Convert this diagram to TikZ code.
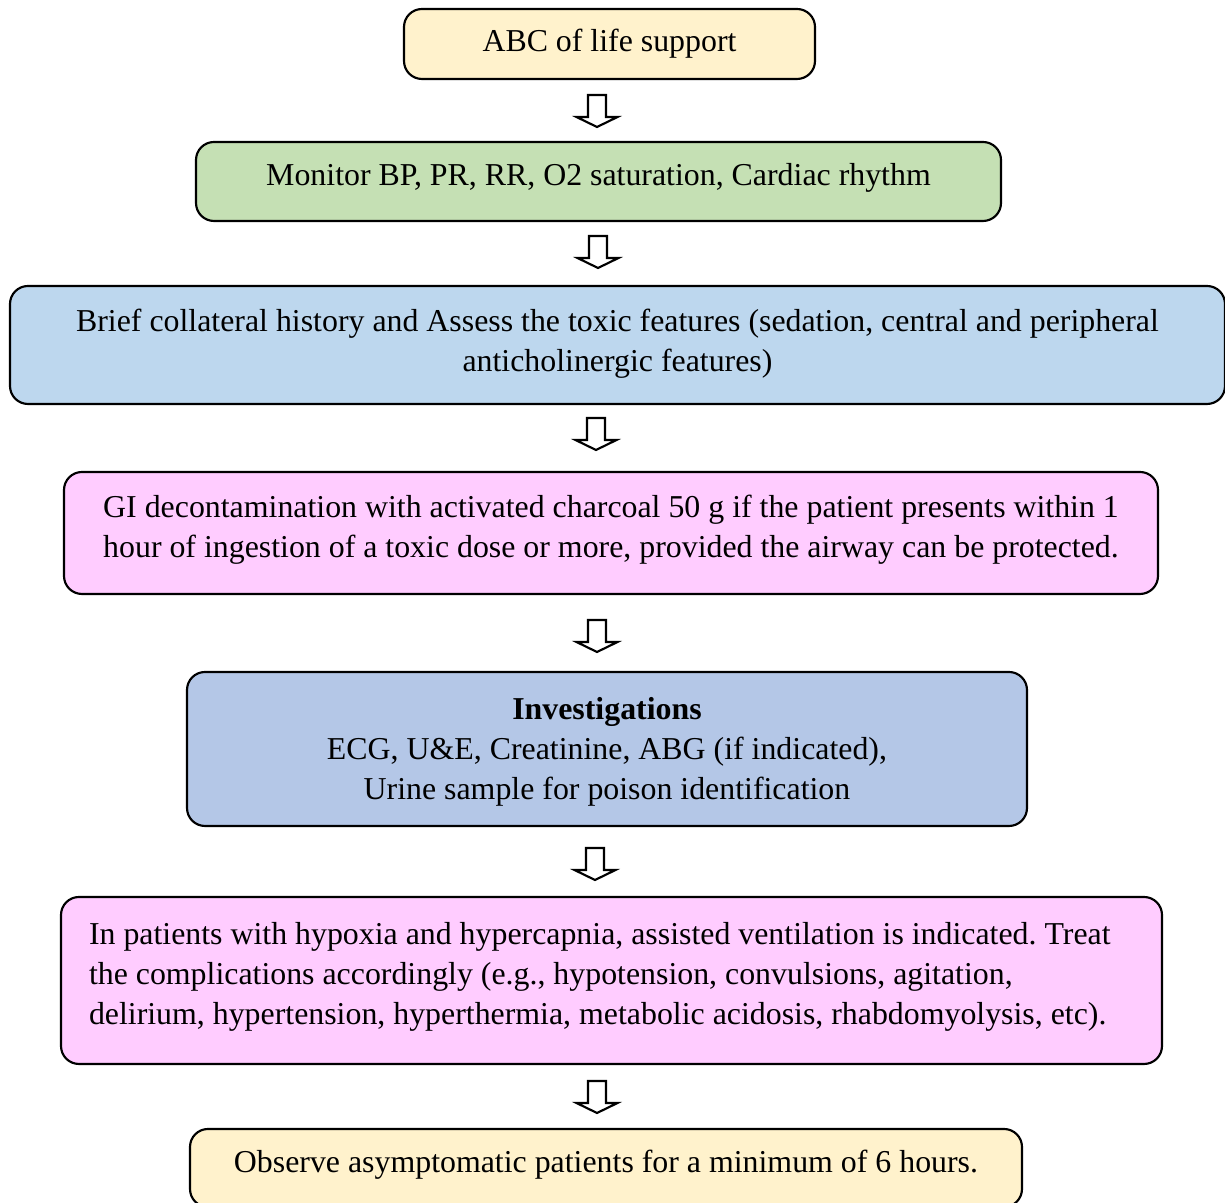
\documentclass[tikz,border=0pt]{standalone}
\usepackage{fontspec}
\setmainfont{Liberation Serif}
\definecolor{cream}{HTML}{FFF2CC}
\definecolor{sage}{HTML}{C5E0B4}
\definecolor{skyblue}{HTML}{BDD7EE}
\definecolor{rosepink}{HTML}{FFCCFF}
\definecolor{steelblue}{HTML}{B4C7E7}
\begin{document}
\frenchspacing
\begin{tikzpicture}[x=0.35pt, y=-0.35pt,
  box/.style={draw=black, line width=0.75pt, rounded corners=6.3pt,
    align=center, inner sep=0pt,
    font=\fontsize{11.15}{14}\selectfont\frenchspacing},
  darrow/.pic={\draw[line width=0.75pt, fill=white, line join=miter]
    (-9,-32) -- (9,-32) -- (9,-10) -- (20.5,-10) -- (0,0)
    -- (-20.5,-10) -- (-9,-10) -- cycle;}]
\useasboundingbox (0,0) rectangle (1225,1203);

% flowchart steps
\node[box, fill=cream, minimum width=411*0.35pt, minimum height=70*0.35pt]
  (abc) at (609.5,44) {ABC of life support};
\node[box, fill=sage, minimum width=805*0.35pt, minimum height=79*0.35pt,
  text depth=4.8pt]
  (mon) at (598.5,181.5) {Monitor BP, PR, RR, O2 saturation, Cardiac rhythm};
\node[box, fill=skyblue, minimum width=1215*0.35pt, minimum height=118*0.35pt,
  text depth=3.4pt]
  (brief) at (617.5,345) {Brief collateral history and Assess the toxic features (sedation, central and peripheral\\anticholinergic features)};
\node[box, fill=rosepink, minimum width=1094*0.35pt, minimum height=122*0.35pt,
  text depth=4.4pt]
  (gi) at (611,533) {GI decontamination with activated charcoal 50 g if the patient presents within 1\\hour of ingestion of a toxic dose or more, provided the airway can be protected.};
\node[box, fill=steelblue, minimum width=840*0.35pt, minimum height=154*0.35pt,
  text depth=0.4pt]
  (inv) at (607,749) {\textbf{Investigations}\\ECG, U\&E, Creatinine, ABG (if indicated),\\Urine sample for poison identification};
\node[box, fill=rosepink, minimum width=1101*0.35pt, minimum height=167*0.35pt,
  text width=1045*0.35pt, align=flush left]
  (inpat) at (611.5,980.5) {\mbox{In patients with hypoxia and hypercapnia, assisted ventilation is indicated. Treat}\\
    \mbox{the complications accordingly (e.g., hypotension, convulsions, agitation,}\\
    \mbox{delirium, hypertension, hyperthermia, metabolic acidosis, rhabdomyolysis, etc).}\par\kern2.8pt};
\node[box, fill=cream, minimum width=832*0.35pt, minimum height=78*0.35pt,
  text depth=4.8pt]
  (obs) at (606,1168) {Observe asymptomatic patients for a minimum of 6 hours.};

% hollow arrows between the steps
\pic at (597,127) {darrow};
\pic at (598,268) {darrow};
\pic at (596,450) {darrow};
\pic at (597,652) {darrow};
\pic at (595,880) {darrow};
\pic at (597,1113) {darrow};
\end{tikzpicture}
\end{document}
